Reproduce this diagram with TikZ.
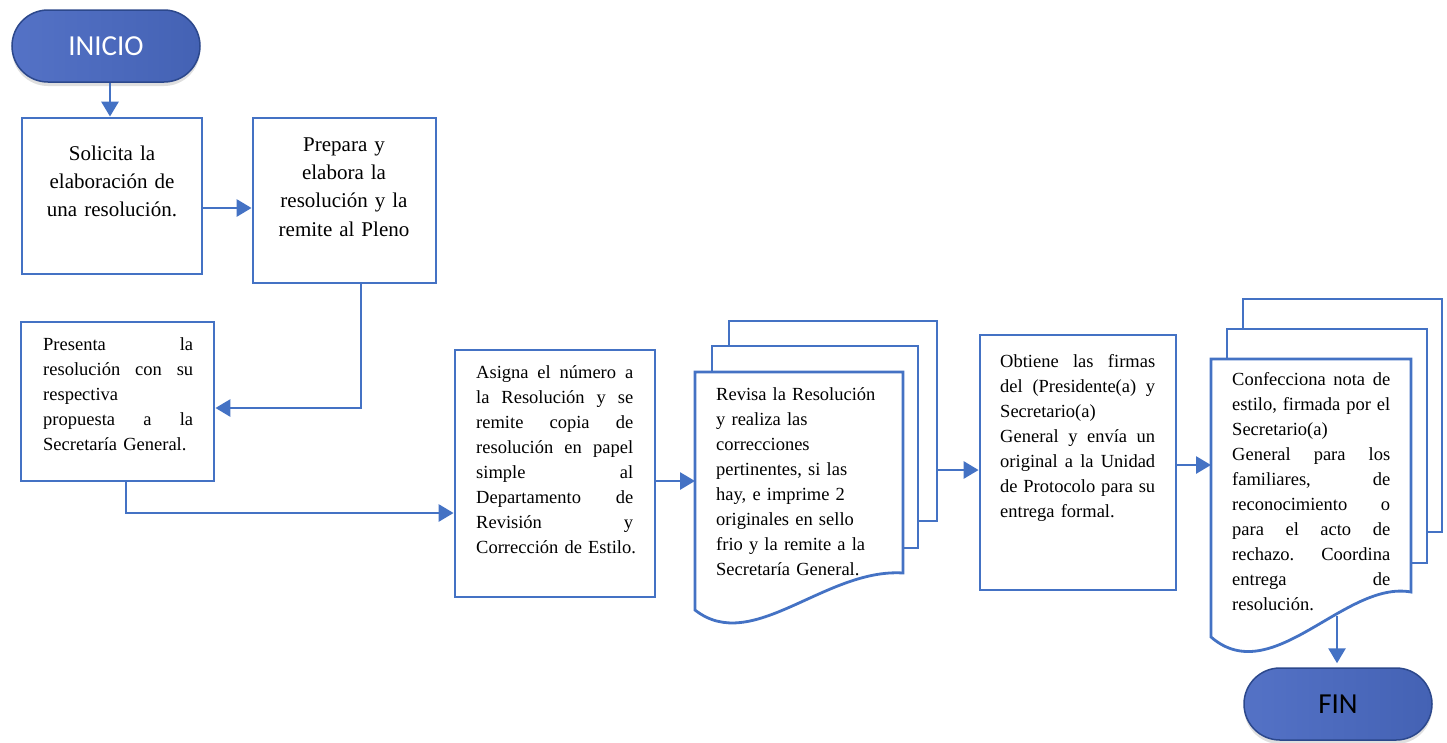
\documentclass[tikz,border=0pt]{standalone}
\usepackage{fontspec}
\setmainfont{Liberation Serif}
\newfontfamily\termfont{Carlito}
\usetikzlibrary{arrows.meta,shadows,calc}

\definecolor{flow}{RGB}{68,114,196}
\definecolor{termL}{RGB}{84,114,198}
\definecolor{termR}{RGB}{68,98,180}
\definecolor{termEdge}{RGB}{44,72,140}

% a line of justified text of a given width (in pt); normal stretchable spaces
\newcommand\jline[2]{{\spaceskip=0pt\xspaceskip=0pt\makebox[#1pt][s]{#2}}}
\newcommand\topstrut{\rule{0pt}{14pt}}
\newcommand\bigstrut{\rule{0pt}{16pt}}
\frenchspacing

\begin{document}
\begin{tikzpicture}[x=1pt,y=-1pt,
  box/.style={draw=flow, line width=2.8pt, fill=white, inner sep=0pt},
  page/.style={inner sep=0pt, outer sep=0pt},
  pageline/.style={draw=flow, line width=2.8pt, line join=miter},
  arr/.style={draw=flow, line width=2.8pt, -{Triangle[length=15pt,width=17pt]}},
  term/.style={rounded corners=36pt, draw=termEdge, line width=1.5pt,
    left color=termL, right color=termR,
    drop shadow={opacity=0.25, shadow xshift=0pt, shadow yshift=-4pt},
    minimum width=188pt, minimum height=72pt, inner sep=0pt,
    font=\termfont\fontsize{29}{31}\selectfont},
  txt/.style={anchor=north west, inner sep=0pt, align=left,
    font=\fontsize{18.5}{25}\selectfont},
  bigtxt/.style={anchor=north, inner sep=0pt, align=center,
    font=\fontsize{21}{28.3}\selectfont}
]
\useasboundingbox (0,0) rectangle (1447,742);

% ---- terminals
\node[term, text=white] (ini) at (106,46) {INICIO};
\node[term, text=black] (fin) at (1338,704) {FIN};

% ---- process boxes
\node[box, minimum width=180pt, minimum height=156pt] (sol) at (112,196) {};
\node[box, minimum width=183pt, minimum height=165pt] (prep) at (344.5,200.5) {};
\node[box, minimum width=193pt, minimum height=159pt] (pres) at (117.5,401.5) {};
\node[box, minimum width=200pt, minimum height=247pt] (asi) at (555,473.5) {};
\node[box, minimum width=196pt, minimum height=255pt] (obt) at (1078,462.5) {};

% ---- multi-document: revision
\node[page, minimum width=208pt, minimum height=200pt] (revb) at (833,421) {};
\node[page, minimum width=208pt, minimum height=240pt] (rev) at (799,492) {};
\draw[pageline] (729,346) |- (937,321) |- (918,521);
\draw[pageline] (712,372) |- (918,346) |- (903,548);
\draw[pageline, fill=white] (695,610) -- (695,372) -- (903,372) -- (903,573)
  .. controls (825,568) and (752,655) .. (695,610) -- cycle;

% ---- multi-document: nota de estilo
\node[page, minimum width=200pt, minimum height=257pt] (conf) at (1311,487.5) {};
\draw[pageline] (1243,329) |- (1442,299) |- (1427,532);
\draw[pageline] (1227,359) |- (1427,329) |- (1411,563);
\draw[pageline, fill=white] (1211,637) -- (1211,359) -- (1411,359) -- (1411,592)
  .. controls (1345,580) and (1272,690) .. (1211,637) -- cycle;

% ---- texts
\node[bigtxt, text width=180pt] (solt) at (112,144)
  {\bigstrut Solicita la\\ elaboración de\\ una resolución.};
\node[bigtxt, text width=183pt] (prept) at (344,135)
  {\bigstrut Prepara y\\ elabora la\\ resolución y la\\ remite al Pleno};

\node[txt, text width=156pt] (prest) at (43,336)
  {\noindent\topstrut\jline{150}{Presenta la}\\
   \jline{150}{resolución con su}\\
   respectiva\\
   \jline{150}{propuesta a la}\\
   Secretaría General.};

\node[txt, text width=163pt] (asit) at (476,364)
  {\noindent\topstrut\jline{157}{Asigna el número a}\\
   \jline{157}{la Resolución y se}\\
   \jline{157}{remite copia de}\\
   \jline{157}{resolución en papel}\\
   \jline{157}{simple al}\\
   \jline{157}{Departamento de}\\
   \jline{157}{Revisión y}\\
   Corrección de Estilo.};

\node[txt, text width=170pt] (revt) at (716,386)
  {\noindent\topstrut Revisa la Resolución\\
   y realiza las\\
   correcciones\\
   pertinentes, si las\\
   hay, e imprime 2\\
   originales en sello\\
   frio y la remite a la\\
   Secretaría General.};

\node[txt, text width=161pt] (obtt) at (1000,353)
  {\noindent\topstrut\jline{155}{Obtiene las firmas}\\
   \jline{155}{del (Presidente(a) y}\\
   Secretario(a)\\
   \jline{155}{General y envía un}\\
   \jline{155}{original a la Unidad}\\
   \jline{155}{de Protocolo para su}\\
   entrega formal.};

\node[txt, text width=164pt] (conft) at (1232,371)
  {\noindent\topstrut\jline{158}{Confecciona nota de}\\
   \jline{158}{estilo, firmada por el}\\
   Secretario(a)\\
   \jline{158}{General para los}\\
   \jline{158}{familiares, de}\\
   \jline{158}{reconocimiento o}\\
   \jline{158}{para el acto de}\\
   \jline{158}{rechazo. Coordina}\\
   \jline{158}{entrega de}\\
   resolución.};

% ---- connectors
\draw[arr] (ini.south -| 110,0) -- (sol.north -| 110,0);
\draw[arr] (sol.east |- 0,208) -- (prep.west |- 0,208);
\draw[arr] (prep.south -| 361,0) |- (pres.east |- 0,408);
\draw[arr] (pres.south -| 126,0) |- (asi.west |- 0,513);
\draw[arr] (asi.east |- 0,481) -- (rev.west |- 0,481);
\draw[arr] (revb.east |- 0,470) -- (obt.west |- 0,470);
\draw[arr] (obt.east |- 0,465) -- (conf.west |- 0,465);
\draw[arr] (conf.south -| 1337,0) -- ([yshift=4pt]fin.north -| 1337,0);
\end{tikzpicture}
\end{document}
